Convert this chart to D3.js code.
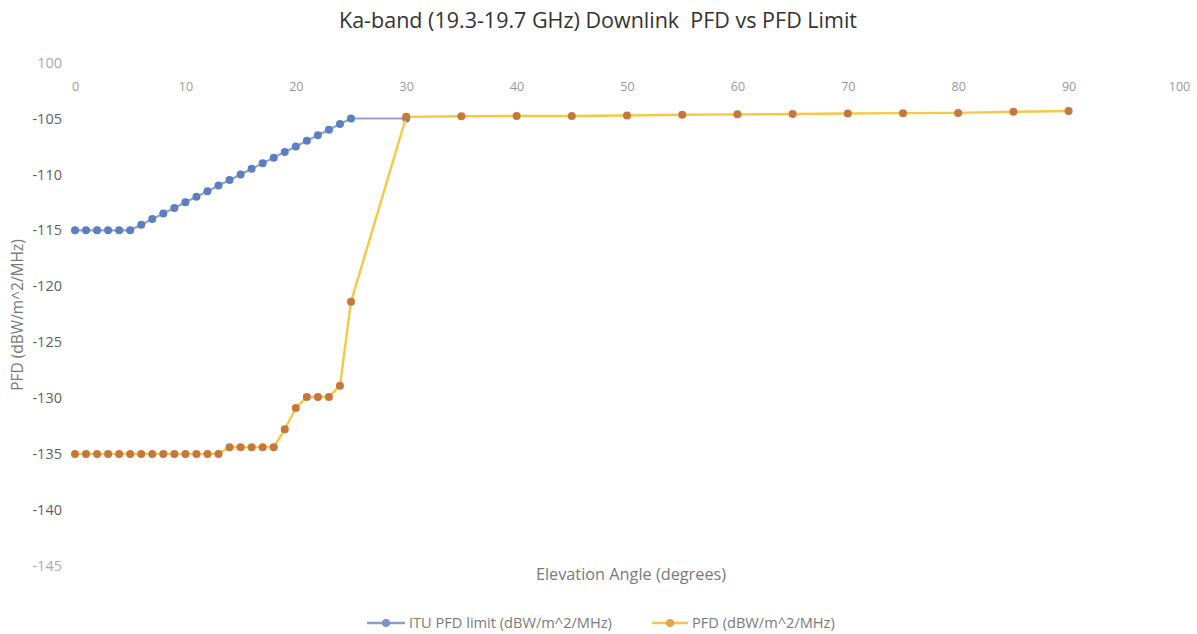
<!DOCTYPE html>
<html>
<head>
<meta charset="utf-8">
<script src="https://cdn.jsdelivr.net/npm/d3@7"></script>
<style>
  body { margin: 0; background: #fff; }
  text { font-family: "Open Sans", "Noto Sans", sans-serif; }
</style>
</head>
<body>
<div id="chart"></div>
<script>
// data
var ituAngles = [0, 1, 2, 3, 4, 5, 6, 7, 8, 9, 10, 11, 12, 13, 14, 15, 16, 17, 18, 19, 20, 21, 22, 23, 24, 25, 30];
var ituLimit = [-115, -115, -115, -115, -115, -115, -114.5, -114, -113.5, -113, -112.5, -112, -111.5, -111, -110.5,
                -110, -109.5, -109, -108.5, -108, -107.5, -107, -106.5, -106, -105.5, -105, -105];

var pfdAngles = [0, 1, 2, 3, 4, 5, 6, 7, 8, 9, 10, 11, 12, 13, 14, 15, 16, 17, 18, 19, 20, 21, 22, 23, 24, 25,
                 30, 35, 40, 45, 50, 55, 60, 65, 70, 75, 80, 85, 90];
var pfdValues = [-135, -135, -135, -135, -135, -135, -135, -135, -135, -135, -135, -135, -135, -135,
                 -134.4, -134.4, -134.4, -134.4, -134.4, -132.8, -130.9, -129.9, -129.9, -129.9, -128.9, -121.4,
                 -104.85, -104.8, -104.78, -104.77, -104.73, -104.66, -104.63, -104.6, -104.55, -104.52, -104.5, -104.4, -104.33];

var xTicks = [0, 10, 20, 30, 40, 50, 60, 70, 80, 90, 100];
var yTicks = [-100, -105, -110, -115, -120, -125, -130, -135, -140, -145];
var yTickLabels = ["100", "-105", "-110", "-115", "-120", "-125", "-130", "-135", "-140", "-145"];

var seriesNames = ["ITU PFD limit (dBW/m^2/MHz)", "PFD (dBW/m^2/MHz)"];

var svg_dx = 1197, svg_dy = 634;

var x = d3.scaleLinear().domain([0, 100]).range([75, 1179]);
var y = d3.scaleLinear().domain([-145, -100]).range([565.7, 62.6]);

var svg = d3.select("#chart")
            .append("svg")
            .attr("width", svg_dx)
            .attr("height", svg_dy);

// title (keeps the double space of the original)
svg.append("text")
   .attr("x", 598)
   .attr("y", 28)
   .attr("text-anchor", "middle")
   .style("white-space", "pre")
   .style("font-size", "21.5px")
   .style("fill", "#333")
   .text("Ka-band (19.3-19.7 GHz) Downlink  PFD vs PFD Limit");

// x axis sits at the top (crosses at -100), labels under it
var xAxis = svg.append("g")
   .attr("transform", "translate(0," + (y(-100) + 17) + ")")
   .call(d3.axisBottom(x).tickValues(xTicks).tickSize(0).tickFormat(d3.format("d")));
xAxis.select(".domain").remove();
xAxis.selectAll("text")
   .style("font-family", "'Open Sans', sans-serif")
   .style("font-size", "12.5px")
   .style("fill", "#999");

var yAxis = svg.append("g")
   .attr("transform", "translate(" + 62 + ",0)")
   .call(d3.axisLeft(y).tickValues(yTicks).tickSize(0).tickPadding(0)
          .tickFormat(function(d, i) { return yTickLabels[i]; }));
yAxis.select(".domain").remove();
yAxis.selectAll("text")
   .style("font-family", "'Open Sans', sans-serif")
   .style("font-size", "14.5px")
   .style("fill", function(d) { return (d == -100 || d == -145) ? "#aaa" : "#5f5f5f"; });

// axis titles
svg.append("text")
   .attr("x", 631)
   .attr("y", 580)
   .attr("text-anchor", "middle")
   .style("font-size", "16.3px")
   .style("fill", "#7a7a7a")
   .text("Elevation Angle (degrees)");

svg.append("text")
   .attr("transform", "rotate(-90)")
   .attr("x", -315)
   .attr("y", 23)
   .attr("text-anchor", "middle")
   .style("font-size", "15.5px")
   .style("fill", "#7a7a7a")
   .text("PFD (dBW/m^2/MHz)");

var line = d3.line()
             .x(function(d) { return x(d[0]); })
             .y(function(d) { return y(d[1]); });

var ituData = ituAngles.map(function(a, i) { return [a, ituLimit[i]]; });
var pfdData = pfdAngles.map(function(a, i) { return [a, pfdValues[i]]; });

// ITU limit series
svg.append("path")
   .datum(ituData)
   .attr("d", line)
   .style("fill", "none")
   .style("stroke", "#97a1c9")
   .style("stroke-width", 2.2);

svg.append("g")
   .selectAll("circle")
   .data(ituData)
   .enter()
   .append("circle")
   .attr("cx", function(d) { return x(d[0]); })
   .attr("cy", function(d) { return y(d[1]); })
   .attr("r", 4)
   .style("fill", "#5b80c2");

// PFD series
svg.append("path")
   .datum(pfdData)
   .attr("d", line)
   .style("fill", "none")
   .style("stroke", "#f6c945")
   .style("stroke-width", 2.4);

svg.append("g")
   .selectAll("circle")
   .data(pfdData)
   .enter()
   .append("circle")
   .attr("cx", function(d) { return x(d[0]); })
   .attr("cy", function(d) { return y(d[1]); })
   .attr("r", 4)
   .style("fill", "#c8773c");

// legend
var legendX = [367, 652],
    legendLine = ["#8f9cc9", "#f3c451"],
    legendDot = ["#7d93c6", "#e1a448"],
    legendW = [38, 36];

var legend = svg.selectAll("g.legend")
   .data(seriesNames)
   .enter()
   .append("g")
   .attr("class", "legend")
   .attr("transform", function(d, i) { return "translate(" + legendX[i] + ",623)"; });

legend.append("line")
   .attr("x1", 0)
   .attr("x2", function(d, i) { return legendW[i]; })
   .style("stroke", function(d, i) { return legendLine[i]; })
   .style("stroke-width", 2.5);

legend.append("circle")
   .attr("cx", function(d, i) { return legendW[i] / 2; })
   .attr("r", 4)
   .style("fill", function(d, i) { return legendDot[i]; });

legend.append("text")
   .attr("x", function(d, i) { return legendW[i] + 4; })
   .attr("y", 5)
   .style("font-size", "14.6px")
   .style("fill", "#7a7a7a")
   .text(function(d) { return d; });
</script>
</body>
</html>
